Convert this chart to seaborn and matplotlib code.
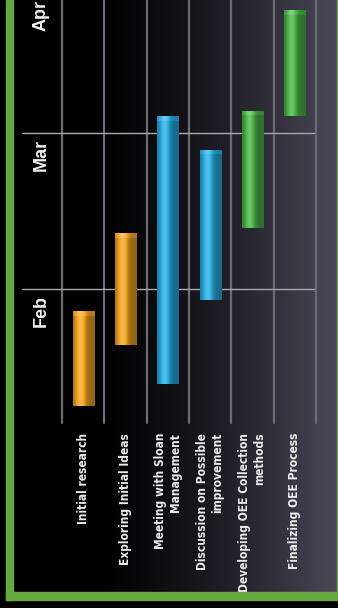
import numpy as np
import pandas as pd
import matplotlib
matplotlib.use("Agg")
import matplotlib.pyplot as plt
import matplotlib.colors as mcolors
import matplotlib.transforms as mtrans
from matplotlib import font_manager as fm
from matplotlib.textpath import TextPath
from matplotlib.patches import Rectangle
import seaborn as sns

# ---------------- data ----------------
tasks = ["Initial research",
         "Exploring Initial Ideas",
         "Meeting with Sloan\nManagement",
         "Discussion on Possible\nimprovement",
         "Developing OEE Collection\nmethods",
         "Finalizing OEE Process"]
start_day = [-21, -10, -17, -2, 11, 31]   # days relative to Feb 1
end_day = [-4, 10, 31, 25, 32, 50]
phase = ["Research", "Research", "Discussion", "Discussion", "Build", "Build"]
phase_colors = {"Research": "#f7a823", "Discussion": "#2bb0e6", "Build": "#4cb848"}
months = ["Feb", "Mar", "Apr"]
month_day = [0, 28, 53]

# ---------------- style ----------------
sns.set_theme(style="white")
plt.rcParams['font.family'] = ['Liberation Sans', 'DejaVu Sans']


def find_font(name, stretch=None):
    for f in fm.fontManager.ttflist:
        if f.name == name and f.style == 'normal' and f.weight in (700, 'bold') \
                and (stretch is None or f.stretch == stretch):
            return f.fname
    return None


fname = (find_font('Liberation Sans Narrow') or find_font('DejaVu Sans', 'condensed')
         or find_font('Liberation Sans') or find_font('DejaVu Sans'))
label_fp = fm.FontProperties(fname=fname, size=11) if fname else \
    fm.FontProperties(family='DejaVu Sans', weight='bold', size=11)
# size the label font so that the widest single-line label spans ~130 px
w_px = TextPath((0, 0), "Exploring Initial Ideas", prop=label_fp).get_extents().width * 100 / 72
label_fp.set_size(label_fp.get_size_in_points() * 130 / w_px)

W, H, DPI = 338, 608, 100
fig = plt.figure(figsize=(W / DPI, H / DPI), dpi=DPI)
fig.patch.set_facecolor('black')

# background panel with horizontal gradient
bg = fig.add_axes([13 / W, 1 - 592 / H, (W - 13) / W, 592 / H])
xs = np.linspace(13, W, 400)
tt = np.clip((xs - 80) / (W - 80), 0, 1) ** 1.5
endc = np.array([76, 73, 90]) / 255
grad = tt[None, :, None] * endc[None, None, :]
bg.imshow(grad, aspect='auto', extent=[0, 1, 0, 1])
bg.set_axis_off()

ax = fig.add_axes([62 / W, 1 - 423 / H, (316 - 62) / W, 423 / H])
ax.patch.set_alpha(0)

df = pd.DataFrame({"task": tasks, "start": start_day, "end": end_day, "phase": phase})
df["duration"] = df["end"] - df["start"]

sns.barplot(data=df, x="task", y="duration", hue="phase", palette=phase_colors,
            order=tasks, width=0.5, dodge=False, legend=False, ax=ax, zorder=3)

YLO, YHI = -24.05, 51.87
px_per_day = 423 / (YHI - YLO)


def shaded(color, nx, ny, cap):
    c = np.array(mcolors.to_rgb(color))
    u = np.linspace(0, 1, nx)
    f = 0.68 + 0.55 * np.exp(-((u - 0.35) / 0.22) ** 2) - 0.08 * u
    img = np.zeros((ny, nx, 3))
    for j in range(ny):
        ff = f + (0.12 if j < cap else 0.0)
        col = np.where(ff[:, None] <= 1, c[None, :] * ff[:, None],
                       c[None, :] + (1 - c[None, :]) * (ff[:, None] - 1))
        img[j] = np.clip(col, 0, 1)
    return img


for p in list(ax.patches):
    xc = p.get_x() + p.get_width() / 2
    i = int(round(xc))
    p.set_y(df["start"][i])
    p.set_height(df["duration"][i])
    p.set_edgecolor('none')
    ny = max(int(round(df["duration"][i] * px_per_day)), 8)
    img = shaded(phase_colors[df["phase"][i]], 40, ny, 5)
    im = ax.imshow(img, extent=[p.get_x(), p.get_x() + p.get_width(),
                                df["start"][i], df["end"][i]],
                   aspect='auto', zorder=3.5, interpolation='bilinear')
    im.set_clip_path(p)

ax.set_xlim(-0.5, 5.5)
ax.set_ylim(YLO, YHI)
ax.set_aspect('auto')

# separators between tasks
for k in np.arange(-0.5, 6, 1):
    ax.axvline(k, color='#6c6c74', lw=1.6, zorder=1, clip_on=False)

# month gridlines & labels
lab_trans = mtrans.offset_copy(mtrans.blended_transform_factory(ax.transAxes, ax.transData),
                               fig=fig, x=0, y=-22, units='dots')
for d, m in zip(month_day, months):
    ax.axhline(d, xmin=-0.157, xmax=0.992, color='#a9a9b1', lw=1.0, zorder=2, clip_on=False)
    ax.text(-0.083, d, m, transform=lab_trans, rotation=90, ha='center', va='center',
            fontsize=13, fontweight='bold', color='#f2f2f2',
            family=['Liberation Sans', 'DejaVu Sans'], clip_on=False)

ax.set_xticks(range(len(tasks)))
ax.set_xticklabels(tasks, rotation=90, va='top', ha='center', ma='right',
                   fontproperties=label_fp, color='#ececec', linespacing=1.2)
ax.tick_params(axis='x', length=0, pad=7)
ax.set_yticks([])
ax.set_xlabel('')
ax.set_ylabel('')
for s in ax.spines.values():
    s.set_visible(False)

# green frame
green = '#66a840'
fig.add_artist(Rectangle((6 / W, 1 - 600 / H), 7 / W, 600 / H, transform=fig.transFigure,
                         color=green, zorder=5))
fig.add_artist(Rectangle((6 / W, 1 - 600 / H), (W - 6) / W, 8 / H, transform=fig.transFigure,
                         color=green, zorder=5))
fig.add_artist(Rectangle(((W - 1.5) / W, 1 - 600 / H), 1.5 / W, 600 / H,
                         transform=fig.transFigure, color=green, zorder=5))

fig.savefig('out.png', dpi=DPI, facecolor='black')
